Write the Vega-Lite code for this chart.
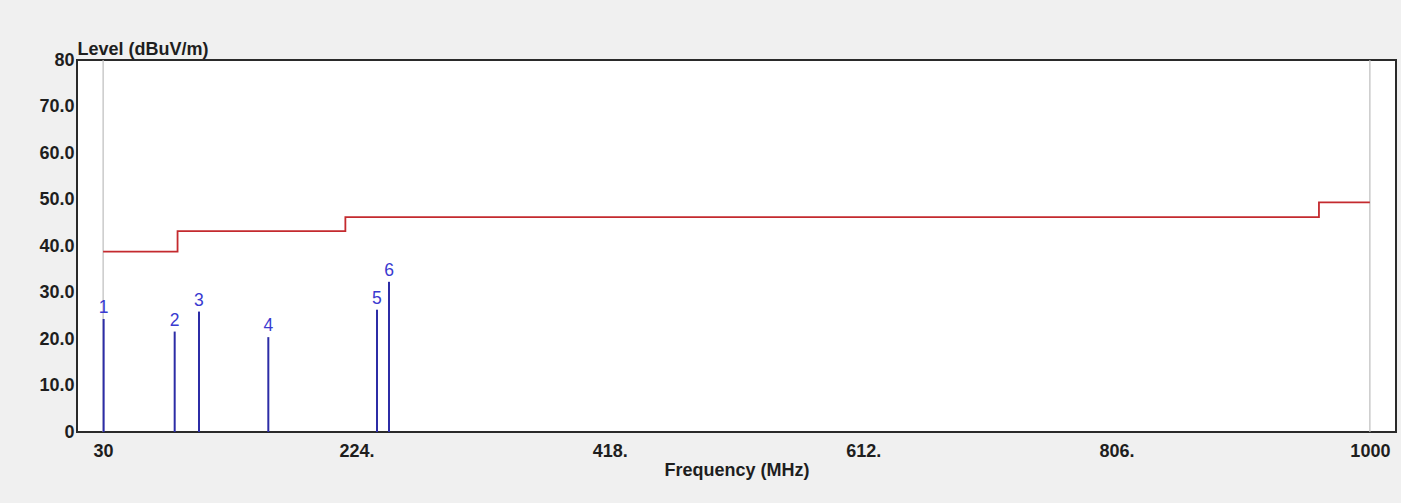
{
  "$schema": "https://vega.github.io/schema/vega-lite/v6.json",
  "autosize": {"type": "none"},
  "width": 1319,
  "height": 372,
  "padding": {"left": 77, "top": 60, "right": 5, "bottom": 71},
  "background": "#f0f0f0",
  "config": {
    "view": {"fill": "white", "stroke": "#2a2a2a", "strokeWidth": 2},
    "font": "Liberation Sans"
  },
  "datasets": {
    "limit": [
      {"freq": 30, "level": 38.8},
      {"freq": 87, "level": 43.2},
      {"freq": 215.5, "level": 46.2},
      {"freq": 961, "level": 49.4},
      {"freq": 1000, "level": 49.4}
    ],
    "peaks": [
      {"label": "1", "freq": 30.4, "level": 24.3},
      {"label": "2", "freq": 84.8, "level": 21.6},
      {"label": "3", "freq": 103.4, "level": 25.9},
      {"label": "4", "freq": 156.5, "level": 20.4},
      {"label": "5", "freq": 239.7, "level": 26.3},
      {"label": "6", "freq": 248.9, "level": 32.3}
    ],
    "edges": [{"freq": 30}, {"freq": 1000}]
  },
  "encoding": {
    "x": {
      "field": "freq",
      "type": "quantitative",
      "scale": {"domain": [10, 1020], "nice": false, "zero": false},
      "axis": {
        "values": [30, 224, 418, 612, 806, 1000],
        "labelExpr": "datum.value == 30 || datum.value == 1000 ? '' + datum.value : datum.value + '.'",
        "ticks": false,
        "domain": false,
        "grid": false,
        "labelFont": "Liberation Sans",
        "labelFontWeight": "bold",
        "labelFontSize": 18,
        "labelColor": "#1e1e1e",
        "labelPadding": 10,
        "labelBaseline": "top",
        "labelFlush": false,
        "labelOverlap": false,
        "title": "Frequency (MHz)",
        "titleFont": "Liberation Sans",
        "titleFontWeight": "bold",
        "titleFontSize": 18,
        "titleColor": "#1e1e1e",
        "titleBaseline": "alphabetic",
        "titleY": 43
      }
    },
    "y": {
      "field": "level",
      "type": "quantitative",
      "scale": {"domain": [0, 80], "nice": false},
      "axis": {
        "values": [0, 10, 20, 30, 40, 50, 60, 70, 80],
        "labelExpr": "datum.value == 0 || datum.value == 80 ? '' + datum.value : format(datum.value, '.1f')",
        "ticks": false,
        "domain": false,
        "grid": false,
        "labelFont": "Liberation Sans",
        "labelFontWeight": "bold",
        "labelFontSize": 18,
        "labelColor": "#1e1e1e",
        "labelPadding": 3,
        "labelBaseline": "middle",
        "labelFlush": false,
        "labelOverlap": false,
        "title": "Level (dBuV/m)",
        "titleFont": "Liberation Sans",
        "titleFontWeight": "bold",
        "titleFontSize": 18,
        "titleColor": "#1e1e1e",
        "titleAngle": 0,
        "titleAlign": "left",
        "titleBaseline": "alphabetic",
        "titleX": 0,
        "titleY": -6
      }
    }
  },
  "layer": [
    {
      "data": {"name": "edges"},
      "mark": {"type": "rule", "color": "#bdbdbd", "strokeWidth": 1.2},
      "encoding": {"x": {"field": "freq", "type": "quantitative"}, "y": null}
    },
    {
      "data": {"name": "limit"},
      "mark": {"type": "line", "interpolate": "step-after", "color": "#c42a2e", "strokeWidth": 1.8},
      "encoding": {}
    },
    {
      "data": {"name": "peaks"},
      "mark": {"type": "rule", "color": "#2c2ca6", "strokeWidth": 2},
      "encoding": {"y2": {"datum": 0}}
    },
    {
      "data": {"name": "peaks"},
      "mark": {"type": "text", "color": "#3a3ad0", "fontSize": 17.5, "font": "Liberation Sans", "baseline": "alphabetic", "align": "center", "dy": -6},
      "encoding": {"text": {"field": "label"}}
    }
  ]
}
